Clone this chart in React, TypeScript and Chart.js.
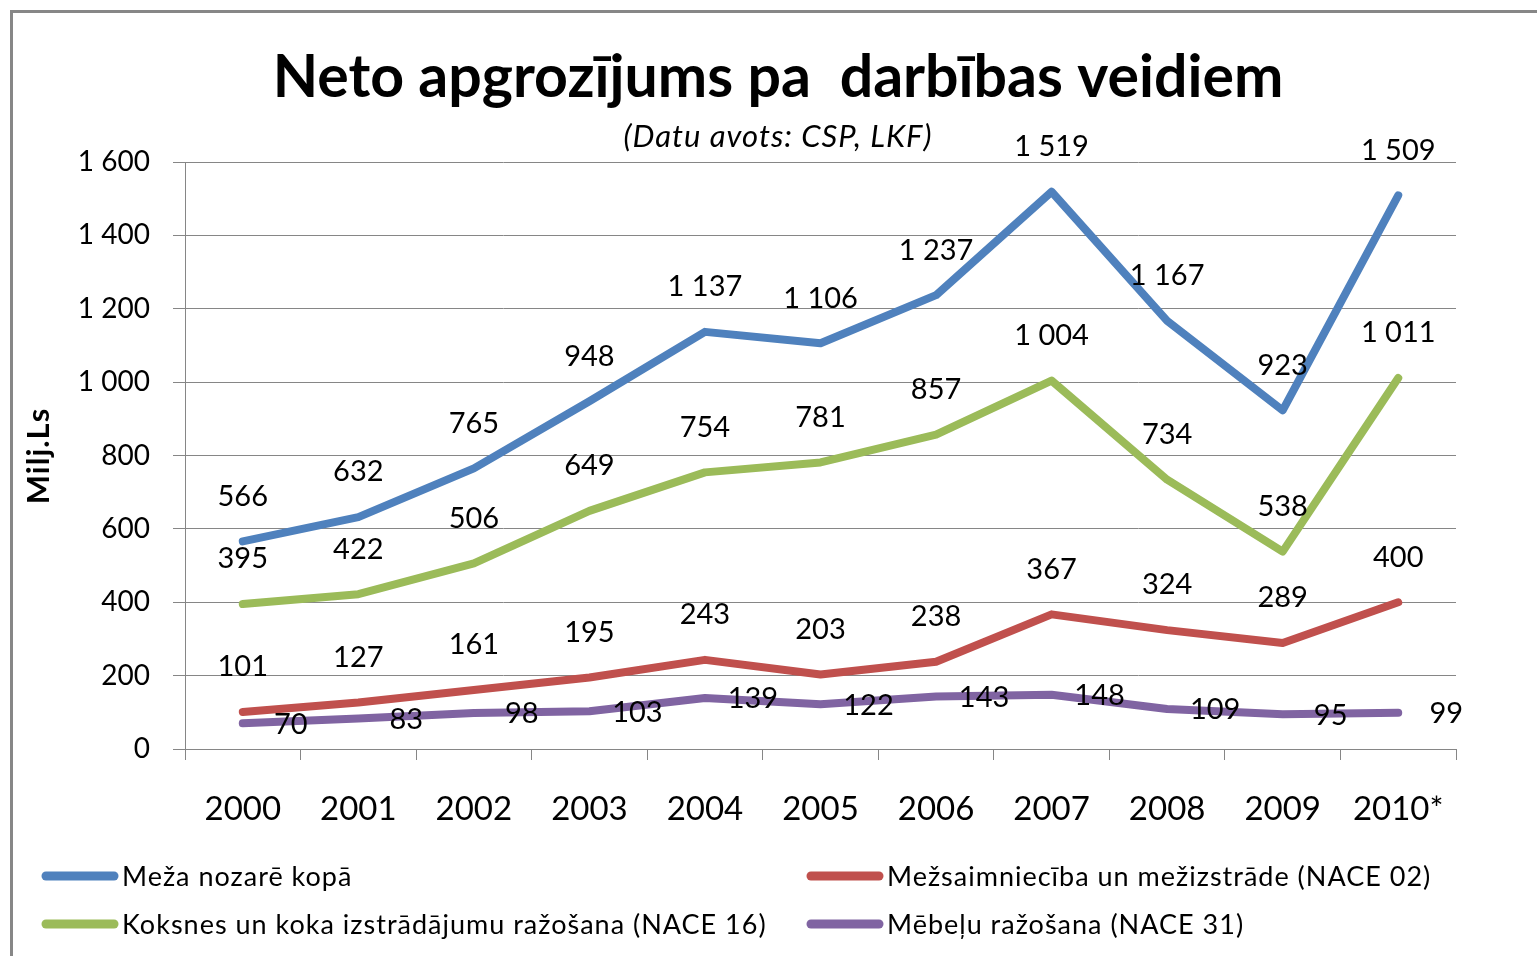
import { useEffect, useRef } from "react";
import { Chart, registerables } from "chart.js";

Chart.register(...registerables);

const categories = ["2000", "2001", "2002", "2003", "2004", "2005", "2006", "2007", "2008", "2009", "2010*"];
const forestSectorTotal = [566, 632, 765, 948, 1137, 1106, 1237, 1519, 1167, 923, 1509];
const woodProducts = [395, 422, 506, 649, 754, 781, 857, 1004, 734, 538, 1011];
const forestryLogging = [101, 127, 161, 195, 243, 203, 238, 367, 324, 289, 400];
const furniture = [70, 83, 98, 103, 139, 122, 143, 148, 109, 95, 99];

const seriesNames = [
  "Meža nozarē kopā",
  "Koksnes un koka izstrādājumu ražošana (NACE 16)",
  "Mežsaimniecība un mežizstrāde (NACE 02)",
  "Mēbeļu ražošana (NACE 31)",
];
const seriesColors = ["#4F81BD", "#9BBB59", "#C0504D", "#8064A2"];

const titleText = "Neto apgrozījums pa  darbības veidiem";
const subtitleText = "(Datu avots: CSP, LKF)";
const yAxisTitle = "Milj.Ls";

const FONT = "Lato, 'Open Sans', sans-serif";

function fmt(v: number): string {
  if (v >= 1000) {
    return `${Math.floor(v / 1000)} ${String(v % 1000).padStart(3, "0")}`;
  }
  return String(v);
}

const decorPlugin = {
  id: "decor",
  beforeDraw(chart: any) {
    const ctx = chart.ctx;
    ctx.save();
    ctx.fillStyle = "#ffffff";
    ctx.fillRect(0, 0, chart.width, chart.height);
    ctx.strokeStyle = "#878787";
    ctx.lineWidth = 3;
    ctx.beginPath();
    ctx.moveTo(11.5, chart.height);
    ctx.lineTo(11.5, 11.5);
    ctx.lineTo(chart.width, 11.5);
    ctx.stroke();
    ctx.restore();
  },
  afterDraw(chart: any) {
    const ctx = chart.ctx;
    ctx.save();
    ctx.fillStyle = "#000";
    ctx.textAlign = "center";
    ctx.textBaseline = "middle";
    ctx.font = `bold 59px ${FONT}`;
    ctx.fillText(titleText, 778, 78);
    ctx.font = `italic 31px ${FONT}`;
    (ctx as any).letterSpacing = "1px";
    ctx.fillText(subtitleText, 778, 137);

    // y axis title
    ctx.save();
    ctx.translate(39, 456);
    ctx.rotate(-Math.PI / 2);
    ctx.font = `bold 31px ${FONT}`;
    (ctx as any).letterSpacing = "1px";
    ctx.fillText(yAxisTitle, 0, 0);
    ctx.restore();

    // legend in two columns
    const slots = [
      { i: 0, x: 42, y: 876 },
      { i: 2, x: 807, y: 876 },
      { i: 1, x: 42, y: 924 },
      { i: 3, x: 807, y: 924 },
    ];
    ctx.textAlign = "left";
    ctx.font = `27px ${FONT}`;
    (ctx as any).letterSpacing = "1px";
    for (const s of slots) {
      ctx.strokeStyle = seriesColors[s.i];
      ctx.lineWidth = 9;
      ctx.lineCap = "round";
      ctx.beginPath();
      ctx.moveTo(s.x + 4, s.y);
      ctx.lineTo(s.x + 72, s.y);
      ctx.stroke();
      ctx.fillStyle = "#000";
      ctx.fillText(seriesNames[s.i], s.x + 80, s.y + 1);
    }
    ctx.restore();
  },
  afterDatasetsDraw(chart: any) {
    const ctx = chart.ctx;
    ctx.save();
    ctx.fillStyle = "#000";
    ctx.font = `29px ${FONT}`;
    ctx.textAlign = "center";
    ctx.textBaseline = "middle";
    chart.data.datasets.forEach((ds: any, di: number) => {
      const meta = chart.getDatasetMeta(di);
      meta.data.forEach((pt: any, j: number) => {
        const v = ds.data[j];
        if (di === 3) {
          ctx.fillText(fmt(v), pt.x + 48, pt.y + 1);
        } else {
          ctx.fillText(fmt(v), pt.x, pt.y - 45);
        }
      });
    });
    ctx.restore();
  },
};

export default function App() {
  const ref = useRef<HTMLCanvasElement | null>(null);

  useEffect(() => {
    document.body.style.margin = "0";
    document.body.style.overflow = "hidden";
    const canvas = ref.current;
    if (!canvas) return;
    const mk = (data: number[], i: number) => ({
      label: seriesNames[i],
      data,
      borderColor: seriesColors[i],
      backgroundColor: seriesColors[i],
      borderWidth: 8,
      pointRadius: 0,
      pointHoverRadius: 0,
      tension: 0,
      borderCapStyle: "round" as const,
      borderJoinStyle: "round" as const,
      fill: false,
    });
    const chart = new Chart(canvas, {
      type: "line",
      data: {
        labels: categories,
        datasets: [
          mk(forestSectorTotal, 0),
          mk(woodProducts, 1),
          mk(forestryLogging, 2),
          mk(furniture, 3),
        ],
      },
      options: {
        responsive: false,
        animation: false,
        events: [],
        layout: { padding: { top: 162, left: 0, right: 81, bottom: 117 } },
        plugins: {
          legend: { display: false },
          title: { display: false },
          tooltip: { enabled: false },
        },
        scales: {
          x: {
            type: "category",
            offset: true,
            grid: {
              offset: true,
              drawOnChartArea: false,
              drawTicks: true,
              tickLength: 11,
              color: "#868686",
              lineWidth: 1,
            },
            border: { color: "#868686", width: 1 },
            ticks: {
              color: "#000",
              font: { family: FONT, size: 33 },
              padding: 30,
              maxRotation: 0,
              autoSkip: false,
            },
            afterFit: (s: any) => {
              s.height = 90;
            },
          },
          y: {
            min: 0,
            max: 1600,
            grid: {
              color: "#868686",
              lineWidth: 1,
              tickLength: 12,
              drawTicks: true,
            },
            border: { color: "#868686", width: 1 },
            ticks: {
              stepSize: 200,
              color: "#000",
              font: { family: FONT, size: 28 },
              padding: 23,
              callback: (v: any) => fmt(Number(v)),
            },
            afterFit: (s: any) => {
              s.width = 185;
            },
          },
        },
      },
      plugins: [decorPlugin],
    });
    return () => chart.destroy();
  }, []);

  return <canvas ref={ref} width={1537} height={956} style={{ display: "block" }} />;
}
